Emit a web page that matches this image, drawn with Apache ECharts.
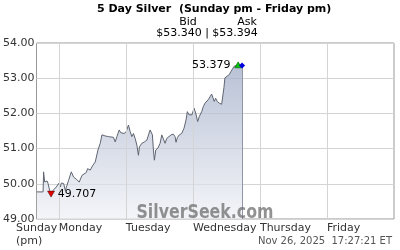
<!DOCTYPE html>
<html><head><meta charset="utf-8">
<script src="https://cdn.jsdelivr.net/npm/echarts@6/dist/echarts.min.js"></script>
<style>html,body{margin:0;padding:0;background:#fff}#c{width:400px;height:250px}</style>
</head><body><div id="c"></div>
<script>
// hours since Monday 00:00 ET
var hours = [-7.86,-5.64,-5.46,-5.07,-4.21,-3.86,-3.29,-2.79,-2.07,-1.5,-0.89,-0.43,-0.07,0.54,0.89,1.36,1.71,2.32,2.93,3.5,4.46,5.29,6.25,7.32,8.29,8.86,9.82,10.29,11.25,12.21,13.04,13.64,14,14.82,15.43,15.64,16.6,17.79,19.57,20.18,20.79,21.61,22.21,22.79,23.39,24.11,24.93,25.29,25.54,26.14,26.71,27.32,27.93,28.29,28.5,28.86,29.71,30.64,31.5,32.07,32.68,33.29,33.5,33.86,34.21,34.71,35.43,36.25,36.86,37.43,38.04,38.64,39.21,40.18,41.0,41.61,41.96,42.43,43.14,44.0,44.82,45.54,46.0,46.61,47.21,47.68,48.39,49.0,49.36,49.71,50.29,51.14,51.71,52.32,52.93,53.5,54.11,54.71,55.29,55.64,56.14,56.71,57.43,58.29,58.86,59.11,59.46,60.07,61.0,61.61,62.21,62.79,63.39,64.21,64.82,65.61];
var prices = [49.77,49.77,50.34,50.05,50.08,50.01,49.81,49.707,49.81,49.86,49.91,49.96,50.01,49.91,50.02,49.98,50.01,49.81,49.96,50.1,50.34,50.19,50.13,50.05,50.24,50.19,50.32,50.43,50.39,50.53,50.62,50.67,50.96,51.15,51.39,51.39,51.36,51.34,51.32,51.19,51.34,51.53,51.45,51.48,51.43,51.48,51.67,51.7,51.48,51.34,51.43,51.29,51.1,51.05,50.81,51.05,51.15,51.19,51.24,51.29,51.53,51.53,51.39,50.96,50.67,50.96,51.01,51.15,51.39,51.34,51.15,51.29,51.24,51.39,51.41,51.34,51.18,51.31,51.39,51.43,51.58,51.81,52.05,51.96,51.91,51.96,52.15,52.01,51.96,51.77,51.91,52.05,52.19,52.29,52.34,52.39,52.47,52.55,52.53,52.34,52.43,52.34,52.29,52.26,52.22,52.73,53.01,53.05,53.1,53.19,53.24,53.34,53.37,53.379,53.34,53.36];
var dayHours = [0, 24, 48, 72, 96];
var dayLabels = ['Monday', 'Tuesday', 'Wednesday', 'Thursday', 'Friday'];
var yTicks = [49, 50, 51, 52, 53, 54];
var bid = '53.340', ask = '53.394';
var titleText = '5 Day Silver  (Sunday pm - Friday pm)';
var stamp = 'Nov 26, 2025  17:27:21 ET';

var data = hours.map(function (h, i) { return [h, prices[i]]; });
var last = data[data.length - 1];
var F = 'DejaVu Sans';
var chart = echarts.init(document.getElementById('c'), null, {renderer: 'canvas'});
var grids = dayHours.map(function (h) { return {xAxis: h, lineStyle: {color: '#d4d4d4'}}; });
grids.push([{coord: [last[0], last[1]], lineStyle: {color: '#8d95a6', width: 1, type: 'solid'}}, {coord: [last[0], yTicks[0]]}]);
chart.setOption({
  animation: false,
  title: {text: titleText, left: 97, top: 4, padding: 0,
    textStyle: {fontFamily: F, fontSize: 11, fontWeight: 'bold', color: '#000'}},
  grid: {left: 36, right: 6, top: 43, bottom: 31, show: true, borderColor: '#999', borderWidth: 1, backgroundColor: 'transparent'},
  xAxis: {type: 'value', min: -8, max: 120,
    axisLine: {show: false}, axisTick: {show: false}, splitLine: {show: false},
    axisLabel: {customValues: dayHours, align: 'left', margin: 4, fontFamily: F, fontSize: 11, color: '#333',
      formatter: function (v) { var i = dayHours.indexOf(v); return i >= 0 ? dayLabels[i] : ''; }}
  },
  yAxis: {type: 'value', min: yTicks[0], max: yTicks[yTicks.length - 1], interval: 1,
    axisLine: {show: false}, axisTick: {show: false},
    splitLine: {lineStyle: {color: '#d4d4d4', width: 1}},
    axisLabel: {margin: 2, fontFamily: F, fontSize: 11, color: '#333', formatter: function (v) { return v.toFixed(2); }}
  },
  series: [{
    type: 'line', data: data, symbol: 'none', smooth: false,
    lineStyle: {color: '#5e6470', width: 1},
    areaStyle: {color: new echarts.graphic.LinearGradient(0, 0, 0, 1, [{offset: 0, color: '#9aa7c3'}, {offset: 1, color: '#eef0f5'}])},
    markLine: {silent: true, symbol: 'none', label: {show: false}, animation: false,
      lineStyle: {color: '#d4d4d4', width: 1, type: 'solid'},
      data: grids},
    markPoint: {silent: true, animation: false,
      data: [
        {type: 'min', symbol: 'triangle', symbolRotate: 180, symbolSize: [7, 6], itemStyle: {color: '#e00000', borderColor: '#400', borderWidth: 0.5},
          label: {show: true, position: 'right', distance: 3, fontFamily: F, fontSize: 11, color: '#000', formatter: function (p) { return p.value.toFixed(3); }}},
        {type: 'max', symbol: 'triangle', symbolSize: [7, 6], itemStyle: {color: '#00c000', borderColor: '#040', borderWidth: 0.5},
          label: {show: true, position: 'left', distance: 4, fontFamily: F, fontSize: 11, color: '#000', formatter: function (p) { return p.value.toFixed(3); }}},
        {coord: last, value: last[1], symbol: 'diamond', symbolSize: [6, 6], itemStyle: {color: '#0000e0'}, label: {show: false}}
      ]}
  }],
  graphic: [
    {type: 'text', left: 16, top: 222, style: {text: 'Sunday\n(pm)', font: '11px "DejaVu Sans"', fill: '#333', lineHeight: 13}},
    {type: 'text', x: 188, y: 22, style: {text: 'Bid', font: '11px "DejaVu Sans"', fill: '#000', align: 'center', verticalAlign: 'middle'}},
    {type: 'text', x: 247, y: 22, style: {text: 'Ask', font: '11px "DejaVu Sans"', fill: '#000', align: 'center', verticalAlign: 'middle'}},
    {type: 'text', x: 207, y: 33, style: {text: '$' + bid + ' | $' + ask, font: '11px "DejaVu Sans"', fill: '#000', align: 'center', verticalAlign: 'middle'}},
    {type: 'text', x: 392, y: 241, style: {text: stamp, font: '10px "DejaVu Sans"', fill: '#555', align: 'right', verticalAlign: 'middle'}},
    {type: 'text', x: 205, y: 213, scaleX: 0.79, z: 100, style: {text: 'SilverSeek.com', font: 'bold 20px "DejaVu Sans"', fill: 'rgba(110,110,110,0.75)', align: 'center', verticalAlign: 'middle'}}
  ]
});
</script></body></html>
